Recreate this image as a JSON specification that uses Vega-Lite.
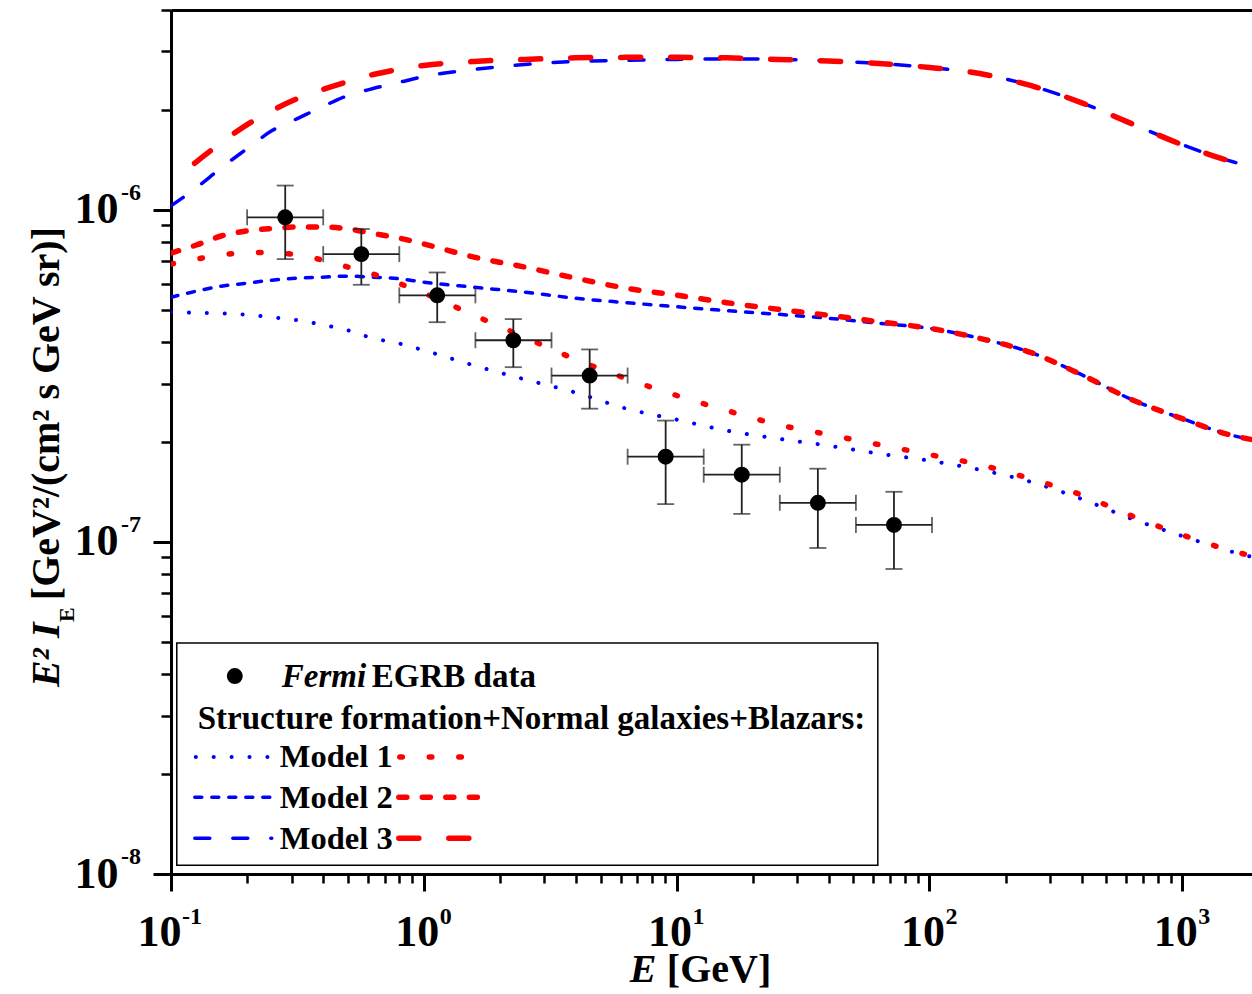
{
  "$schema": "https://vega.github.io/schema/vega-lite/v6.json",
  "width": 1081,
  "height": 864,
  "autosize": {"type": "none"},
  "padding": {"left": 171, "top": 10, "right": 0, "bottom": 120},
  "background": "white",
  "config": {
    "view": {"stroke": null},
    "axis": {"grid": false, "domainColor": "black", "tickColor": "black", "labelColor": "black", "labelFont": "Liberation Serif", "labelFontWeight": "bold", "labelFontSize": 44, "domainWidth": 3, "tickWidth": 2.5, "labelFlush": false, "labelOverlap": false},
    "text": {"font": "Liberation Serif", "fontWeight": "bold", "color": "black"}
  },
  "datasets": {
    "curves": [
      {"E": 0.1, "m1b": 4.918e-7, "m1r": 6.868e-7, "m2b": 5.459e-7, "m2r": 7.413e-7, "m3b": 1.028e-6, "m3r": 1.215e-6},
      {"E": 0.126, "m1b": 4.901e-7, "m1r": 7.112e-7, "m2b": 5.692e-7, "m2r": 7.840e-7, "m3b": 1.166e-6, "m3r": 1.396e-6},
      {"E": 0.158, "m1b": 4.884e-7, "m1r": 7.312e-7, "m2b": 5.893e-7, "m2r": 8.346e-7, "m3b": 1.339e-6, "m3r": 1.594e-6},
      {"E": 0.2, "m1b": 4.834e-7, "m1r": 7.442e-7, "m2b": 6.017e-7, "m2r": 8.642e-7, "m3b": 1.529e-6, "m3r": 1.806e-6},
      {"E": 0.251, "m1b": 4.750e-7, "m1r": 7.442e-7, "m2b": 6.144e-7, "m2r": 8.791e-7, "m3b": 1.733e-6, "m3r": 1.991e-6},
      {"E": 0.316, "m1b": 4.652e-7, "m1r": 7.312e-7, "m2b": 6.230e-7, "m2r": 8.885e-7, "m3b": 1.883e-6, "m3r": 2.164e-6},
      {"E": 0.398, "m1b": 4.509e-7, "m1r": 7.061e-7, "m2b": 6.273e-7, "m2r": 8.885e-7, "m3b": 2.047e-6, "m3r": 2.305e-6},
      {"E": 0.501, "m1b": 4.339e-7, "m1r": 6.727e-7, "m2b": 6.317e-7, "m2r": 8.763e-7, "m3b": 2.210e-6, "m3r": 2.436e-6},
      {"E": 0.631, "m1b": 4.105e-7, "m1r": 6.408e-7, "m2b": 6.273e-7, "m2r": 8.492e-7, "m3b": 2.321e-6, "m3r": 2.557e-6},
      {"E": 0.794, "m1b": 3.964e-7, "m1r": 6.017e-7, "m2b": 6.209e-7, "m2r": 8.232e-7, "m3b": 2.419e-6, "m3r": 2.649e-6},
      {"E": 1, "m1b": 3.776e-7, "m1r": 5.614e-7, "m2b": 6.059e-7, "m2r": 7.895e-7, "m3b": 2.522e-6, "m3r": 2.723e-6},
      {"E": 1.58, "m1b": 3.401e-7, "m1r": 4.817e-7, "m2b": 5.85e-7, "m2r": 7.211e-7, "m3b": 2.649e-6, "m3r": 2.800e-6},
      {"E": 2.51, "m1b": 3.087e-7, "m1r": 4.133e-7, "m2b": 5.652e-7, "m2r": 6.727e-7, "m3b": 2.742e-6, "m3r": 2.840e-6},
      {"E": 3.98, "m1b": 2.819e-7, "m1r": 3.548e-7, "m2b": 5.42e-7, "m2r": 6.230e-7, "m3b": 2.800e-6, "m3r": 2.870e-6},
      {"E": 6.31, "m1b": 2.522e-7, "m1r": 3.108e-7, "m2b": 5.256e-7, "m2r": 5.812e-7, "m3b": 2.820e-6, "m3r": 2.880e-6},
      {"E": 10, "m1b": 2.336e-7, "m1r": 2.761e-7, "m2b": 5.11e-7, "m2r": 5.535e-7, "m3b": 2.840e-6, "m3r": 2.880e-6},
      {"E": 15.8, "m1b": 2.164e-7, "m1r": 2.487e-7, "m2b": 4.970e-7, "m2r": 5.256e-7, "m3b": 2.850e-6, "m3r": 2.870e-6},
      {"E": 25.1, "m1b": 2.047e-7, "m1r": 2.257e-7, "m2b": 4.851e-7, "m2r": 5.022e-7, "m3b": 2.840e-6, "m3r": 2.840e-6},
      {"E": 39.8, "m1b": 1.950e-7, "m1r": 2.105e-7, "m2b": 4.718e-7, "m2r": 4.817e-7, "m3b": 2.810e-6, "m3r": 2.810e-6},
      {"E": 63.1, "m1b": 1.845e-7, "m1r": 1.964e-7, "m2b": 4.557e-7, "m2r": 4.603e-7, "m3b": 2.761e-6, "m3r": 2.761e-6},
      {"E": 100, "m1b": 1.757e-7, "m1r": 1.832e-7, "m2b": 4.400e-7, "m2r": 4.400e-7, "m3b": 2.685e-6, "m3r": 2.685e-6},
      {"E": 158, "m1b": 1.650e-7, "m1r": 1.709e-7, "m2b": 4.105e-7, "m2r": 4.105e-7, "m3b": 2.575e-6, "m3r": 2.575e-6},
      {"E": 251, "m1b": 1.518e-7, "m1r": 1.550e-7, "m2b": 3.724e-7, "m2r": 3.724e-7, "m3b": 2.370e-6, "m3r": 2.370e-6},
      {"E": 398, "m1b": 1.349e-7, "m1r": 1.387e-7, "m2b": 3.195e-7, "m2r": 3.195e-7, "m3b": 2.105e-6, "m3r": 2.105e-6},
      {"E": 631, "m1b": 1.174e-7, "m1r": 1.198e-7, "m2b": 2.685e-7, "m2r": 2.685e-7, "m3b": 1.819e-6, "m3r": 1.819e-6},
      {"E": 1000, "m1b": 1.042e-7, "m1r": 1.050e-7, "m2b": 2.352e-7, "m2r": 2.352e-7, "m3b": 1.572e-6, "m3r": 1.572e-6},
      {"E": 1585, "m1b": 9.33e-8, "m1r": 9.39e-8, "m2b": 2.091e-7, "m2r": 2.091e-7, "m3b": 1.396e-6, "m3r": 1.396e-6},
      {"E": 1888, "m1b": 9.01e-8, "m1r": 9.07e-8, "m2b": 2.033e-7, "m2r": 2.033e-7, "m3b": 1.349e-6, "m3r": 1.349e-6}
    ],
    "fermi": [
      {"E": 0.283, "Elo": 0.2, "Ehi": 0.4, "v": 9.50e-7, "vlo": 7.11e-7, "vhi": 1.184e-6},
      {"E": 0.566, "Elo": 0.4, "Ehi": 0.8, "v": 7.36e-7, "vlo": 5.95e-7, "vhi": 8.76e-7},
      {"E": 1.13, "Elo": 0.8, "Ehi": 1.6, "v": 5.53e-7, "vlo": 4.59e-7, "vhi": 6.48e-7},
      {"E": 2.26, "Elo": 1.6, "Ehi": 3.2, "v": 4.05e-7, "vlo": 3.36e-7, "vhi": 4.69e-7},
      {"E": 4.53, "Elo": 3.2, "Ehi": 6.4, "v": 3.17e-7, "vlo": 2.52e-7, "vhi": 3.80e-7},
      {"E": 9.05, "Elo": 6.4, "Ehi": 12.8, "v": 1.806e-7, "vlo": 1.30e-7, "vhi": 2.32e-7},
      {"E": 18.1, "Elo": 12.8, "Ehi": 25.6, "v": 1.594e-7, "vlo": 1.215e-7, "vhi": 1.963e-7},
      {"E": 36.2, "Elo": 25.6, "Ehi": 51.2, "v": 1.312e-7, "vlo": 9.59e-8, "vhi": 1.662e-7},
      {"E": 72.4, "Elo": 51.2, "Ehi": 102.4, "v": 1.125e-7, "vlo": 8.29e-8, "vhi": 1.416e-7}
    ],
    "yexp": [
      {"v": 1e-8, "t": "-8"},
      {"v": 1e-7, "t": "-7"},
      {"v": 1e-6, "t": "-6"}
    ],
    "xexpneg": [
      {"E": 0.1, "t": "-1"}
    ],
    "xexppos": [
      {"E": 1, "t": "0"},
      {"E": 10, "t": "1"},
      {"E": 100, "t": "2"},
      {"E": 1000, "t": "3"}
    ]
  },
  "layer": [
    {
      "data": {"name": "curves"},
      "mark": {"type": "line", "color": "#0000ff", "strokeWidth": 4, "strokeDash": [0.1, 17.8], "strokeCap": "round", "interpolate": "monotone", "clip": true},
      "encoding": {
        "x": {"field": "E", "type": "quantitative", "scale": {"type": "log", "domain": [0.1, 1888], "nice": false},
          "axis": {"orient": "bottom", "values": [0.1, 1, 10, 100, 1000], "tickSize": 17, "tickWidth": 3, "labelPadding": 19, "title": null,
            "labelExpr": "'10'", "labelAlign": "right",
            "labelOffset": {"condition": {"test": "datum.value < 0.5", "value": 10}, "value": 15}}},
        "y": {"field": "m1b", "type": "quantitative", "scale": {"type": "log", "domain": [1e-8, 4e-6], "nice": false},
          "axis": {"orient": "left", "values": [1e-8, 1e-7, 1e-6], "tickSize": 18, "tickWidth": 3, "labelPadding": 35, "title": null,
            "labelExpr": "'10'"}}
      }
    },
    {
      "data": {"name": "curves"},
      "mark": {"type": "line", "color": "#0000ff", "strokeWidth": 3.5, "strokeDash": [7, 10], "strokeCap": "round", "interpolate": "monotone", "clip": true},
      "encoding": {
        "x": {"field": "E", "type": "quantitative", "scale": {"type": "log", "domain": [0.1, 1888], "nice": false},
          "axis": {"orient": "bottom", "values": [0.2, 0.3, 0.4, 0.5, 0.6, 0.7, 0.8, 0.9, 2, 3, 4, 5, 6, 7, 8, 9, 20, 30, 40, 50, 60, 70, 80, 90, 200, 300, 400, 500, 600, 700, 800, 900], "tickSize": 9, "tickWidth": 2.5, "labels": false, "domain": false, "title": null}},
        "y": {"field": "m2b", "type": "quantitative", "scale": {"type": "log", "domain": [1e-8, 4e-6], "nice": false},
          "axis": {"orient": "left", "values": [2e-8, 3e-8, 4e-8, 5e-8, 6e-8, 7e-8, 8e-8, 9e-8, 2e-7, 3e-7, 4e-7, 5e-7, 6e-7, 7e-7, 8e-7, 9e-7, 2e-6, 3e-6, 4e-6], "tickSize": 10, "tickWidth": 2.5, "labels": false, "domain": false, "title": null}}
      }
    },
    {
      "data": {"name": "curves"},
      "mark": {"type": "line", "color": "#0000ff", "strokeWidth": 3.5, "strokeDash": [15, 23], "strokeCap": "round", "interpolate": "monotone", "clip": true},
      "encoding": {
        "x": {"field": "E", "type": "quantitative", "scale": {"type": "log", "domain": [0.1, 1888], "nice": false},
          "axis": {"orient": "top", "ticks": false, "labels": false, "domain": true, "domainWidth": 3, "title": null}},
        "y": {"field": "m3b", "type": "quantitative", "scale": {"type": "log", "domain": [1e-8, 4e-6], "nice": false}, "axis": null}
      }
    },
    {
      "data": {"name": "curves"},
      "mark": {"type": "line", "color": "#ff0000", "strokeWidth": 5.5, "strokeDash": [2.5, 27], "strokeCap": "round", "interpolate": "monotone", "clip": true},
      "encoding": {
        "x": {"field": "E", "type": "quantitative", "scale": {"type": "log", "domain": [0.1, 1888], "nice": false}, "axis": null},
        "y": {"field": "m1r", "type": "quantitative", "scale": {"type": "log", "domain": [1e-8, 4e-6], "nice": false}, "axis": null}
      }
    },
    {
      "data": {"name": "curves"},
      "mark": {"type": "line", "color": "#ff0000", "strokeWidth": 5.5, "strokeDash": [8, 15.5], "strokeCap": "round", "interpolate": "monotone", "clip": true},
      "encoding": {
        "x": {"field": "E", "type": "quantitative", "scale": {"type": "log", "domain": [0.1, 1888], "nice": false}, "axis": null},
        "y": {"field": "m2r", "type": "quantitative", "scale": {"type": "log", "domain": [1e-8, 4e-6], "nice": false}, "axis": null}
      }
    },
    {
      "data": {"name": "curves"},
      "mark": {"type": "line", "color": "#ff0000", "strokeWidth": 5.5, "strokeDash": [20, 30], "strokeDashOffset": 20, "strokeCap": "round", "interpolate": "monotone", "clip": true},
      "encoding": {
        "x": {"field": "E", "type": "quantitative", "scale": {"type": "log", "domain": [0.1, 1888], "nice": false}, "axis": null},
        "y": {"field": "m3r", "type": "quantitative", "scale": {"type": "log", "domain": [1e-8, 4e-6], "nice": false}, "axis": null}
      }
    },
    {
      "data": {"name": "fermi"},
      "mark": {"type": "rule", "color": "#222222", "strokeWidth": 1.8},
      "encoding": {
        "x": {"field": "Elo", "type": "quantitative", "scale": {"type": "log", "domain": [0.1, 1888], "nice": false}, "axis": null},
        "x2": {"field": "Ehi"},
        "y": {"field": "v", "type": "quantitative", "scale": {"type": "log", "domain": [1e-8, 4e-6], "nice": false}, "axis": null}
      }
    },
    {
      "data": {"name": "fermi"},
      "mark": {"type": "rule", "color": "#222222", "strokeWidth": 1.8},
      "encoding": {
        "x": {"field": "E", "type": "quantitative", "scale": {"type": "log", "domain": [0.1, 1888], "nice": false}, "axis": null},
        "y": {"field": "vlo", "type": "quantitative", "scale": {"type": "log", "domain": [1e-8, 4e-6], "nice": false}, "axis": null},
        "y2": {"field": "vhi"}
      }
    },
    {
      "data": {"name": "fermi"},
      "transform": [{"fold": ["Elo", "Ehi"], "as": ["k", "Ecap"]}],
      "mark": {"type": "tick", "orient": "vertical", "size": 16, "thickness": 1.8, "color": "#222222"},
      "encoding": {
        "x": {"field": "Ecap", "type": "quantitative", "scale": {"type": "log", "domain": [0.1, 1888], "nice": false}, "axis": null},
        "y": {"field": "v", "type": "quantitative", "scale": {"type": "log", "domain": [1e-8, 4e-6], "nice": false}, "axis": null}
      }
    },
    {
      "data": {"name": "fermi"},
      "transform": [{"fold": ["vlo", "vhi"], "as": ["k", "vcap"]}],
      "mark": {"type": "tick", "orient": "horizontal", "size": 17, "thickness": 1.8, "color": "#222222"},
      "encoding": {
        "x": {"field": "E", "type": "quantitative", "scale": {"type": "log", "domain": [0.1, 1888], "nice": false}, "axis": null},
        "y": {"field": "vcap", "type": "quantitative", "scale": {"type": "log", "domain": [1e-8, 4e-6], "nice": false}, "axis": null}
      }
    },
    {
      "data": {"name": "fermi"},
      "mark": {"type": "point", "shape": "circle", "filled": true, "size": 254, "color": "black", "opacity": 1},
      "encoding": {
        "x": {"field": "E", "type": "quantitative", "scale": {"type": "log", "domain": [0.1, 1888], "nice": false}, "axis": null},
        "y": {"field": "v", "type": "quantitative", "scale": {"type": "log", "domain": [1e-8, 4e-6], "nice": false}, "axis": null}
      }
    },
    {
      "data": {"name": "yexp"},
      "mark": {"type": "text", "fontSize": 24, "align": "left", "baseline": "alphabetic", "dx": -50, "dy": -10},
      "encoding": {
        "x": {"datum": 0.1, "type": "quantitative", "axis": null},
        "y": {"field": "v", "type": "quantitative", "axis": null},
        "text": {"field": "t"}
      }
    },
    {
      "data": {"name": "xexpneg"},
      "mark": {"type": "text", "fontSize": 24, "align": "left", "baseline": "alphabetic", "dx": 11, "dy": 50},
      "encoding": {
        "x": {"field": "E", "type": "quantitative", "axis": null},
        "y": {"datum": 1e-8, "type": "quantitative", "axis": null},
        "text": {"field": "t"}
      }
    },
    {
      "data": {"name": "xexppos"},
      "mark": {"type": "text", "fontSize": 24, "align": "left", "baseline": "alphabetic", "dx": 16, "dy": 50},
      "encoding": {
        "x": {"field": "E", "type": "quantitative", "axis": null},
        "y": {"datum": 1e-8, "type": "quantitative", "axis": null},
        "text": {"field": "t"}
      }
    },
    {
      "data": {"values": [{}]},
      "mark": {"type": "rect", "fill": "white", "stroke": "black", "strokeWidth": 1.5},
      "encoding": {
        "x": {"datum": 0.1054, "type": "quantitative", "axis": null},
        "x2": {"datum": 62.5},
        "y": {"datum": 4.96e-8, "type": "quantitative", "axis": null},
        "y2": {"datum": 1.063e-8}
      }
    },
    {
      "data": {"values": [{}]},
      "mark": {"type": "point", "shape": "circle", "filled": true, "size": 254, "color": "black", "opacity": 1},
      "encoding": {
        "x": {"datum": 0.1788, "type": "quantitative", "axis": null},
        "y": {"datum": 3.945e-8, "type": "quantitative", "axis": null}
      }
    },
    {
      "data": {"values": [{}]},
      "mark": {"type": "text", "text": "Fermi", "fontStyle": "italic", "fontSize": 33, "align": "left", "baseline": "alphabetic"},
      "encoding": {"x": {"datum": 0.2744, "type": "quantitative", "axis": null}, "y": {"datum": 3.656e-8, "type": "quantitative", "axis": null}}
    },
    {
      "data": {"values": [{}]},
      "mark": {"type": "text", "text": "EGRB data", "fontSize": 33, "align": "left", "baseline": "alphabetic"},
      "encoding": {"x": {"datum": 0.6226, "type": "quantitative", "axis": null}, "y": {"datum": 3.656e-8, "type": "quantitative", "axis": null}}
    },
    {
      "data": {"values": [{}]},
      "mark": {"type": "text", "text": "Structure formation+Normal galaxies+Blazars:", "fontSize": 33, "align": "left", "baseline": "alphabetic"},
      "encoding": {"x": {"datum": 0.1276, "type": "quantitative", "axis": null}, "y": {"datum": 2.732e-8, "type": "quantitative", "axis": null}}
    },
    {
      "data": {"values": [{}]},
      "mark": {"type": "text", "text": "Model 1", "fontSize": 32.5, "align": "left", "baseline": "alphabetic"},
      "encoding": {"x": {"datum": 0.2694, "type": "quantitative", "axis": null}, "y": {"datum": 2.099e-8, "type": "quantitative", "axis": null}}
    },
    {
      "data": {"values": [{}]},
      "mark": {"type": "text", "text": "Model 2", "fontSize": 32.5, "align": "left", "baseline": "alphabetic"},
      "encoding": {"x": {"datum": 0.2694, "type": "quantitative", "axis": null}, "y": {"datum": 1.579e-8, "type": "quantitative", "axis": null}}
    },
    {
      "data": {"values": [{}]},
      "mark": {"type": "text", "text": "Model 3", "fontSize": 32.5, "align": "left", "baseline": "alphabetic"},
      "encoding": {"x": {"datum": 0.2694, "type": "quantitative", "axis": null}, "y": {"datum": 1.189e-8, "type": "quantitative", "axis": null}}
    },
    {
      "data": {"values": [{}]},
      "mark": {"type": "rule", "color": "#0000ff", "strokeWidth": 4, "strokeDash": [0.1, 17.8], "strokeCap": "round"},
      "encoding": {"x": {"datum": 0.1253, "type": "quantitative", "axis": null}, "x2": {"datum": 0.2504}, "y": {"datum": 2.25e-8, "type": "quantitative", "axis": null}}
    },
    {
      "data": {"values": [{}]},
      "mark": {"type": "rule", "color": "#ff0000", "strokeWidth": 5.5, "strokeDash": [2.5, 27], "strokeCap": "round"},
      "encoding": {"x": {"datum": 0.8038, "type": "quantitative", "axis": null}, "x2": {"datum": 1.534}, "y": {"datum": 2.25e-8, "type": "quantitative", "axis": null}}
    },
    {
      "data": {"values": [{}]},
      "mark": {"type": "rule", "color": "#0000ff", "strokeWidth": 3.5, "strokeDash": [7, 10], "strokeCap": "round"},
      "encoding": {"x": {"datum": 0.1242, "type": "quantitative", "axis": null}, "x2": {"datum": 0.2504}, "y": {"datum": 1.704e-8, "type": "quantitative", "axis": null}}
    },
    {
      "data": {"values": [{}]},
      "mark": {"type": "rule", "color": "#ff0000", "strokeWidth": 5.5, "strokeDash": [8, 15.5], "strokeCap": "round"},
      "encoding": {"x": {"datum": 0.7965, "type": "quantitative", "axis": null}, "x2": {"datum": 1.635}, "y": {"datum": 1.704e-8, "type": "quantitative", "axis": null}}
    },
    {
      "data": {"values": [{}]},
      "mark": {"type": "rule", "color": "#0000ff", "strokeWidth": 3.5, "strokeDash": [15, 23], "strokeCap": "round"},
      "encoding": {"x": {"datum": 0.1242, "type": "quantitative", "axis": null}, "x2": {"datum": 0.2504}, "y": {"datum": 1.282e-8, "type": "quantitative", "axis": null}}
    },
    {
      "data": {"values": [{}]},
      "mark": {"type": "rule", "color": "#ff0000", "strokeWidth": 5.5, "strokeDash": [20, 30], "strokeCap": "round"},
      "encoding": {"x": {"datum": 0.7965, "type": "quantitative", "axis": null}, "x2": {"datum": 1.606}, "y": {"datum": 1.282e-8, "type": "quantitative", "axis": null}}
    },
    {
      "data": {"values": [{}]},
      "mark": {"type": "text", "text": "E", "fontStyle": "italic", "fontSize": 40, "align": "left", "baseline": "alphabetic"},
      "encoding": {"x": {"datum": 6.53, "type": "quantitative", "axis": null}, "y": {"datum": 4.72e-9, "type": "quantitative", "axis": null}}
    },
    {
      "data": {"values": [{}]},
      "mark": {"type": "text", "text": "[GeV]", "fontSize": 40, "align": "left", "baseline": "alphabetic"},
      "encoding": {"x": {"datum": 9.146, "type": "quantitative", "axis": null}, "y": {"datum": 4.72e-9, "type": "quantitative", "axis": null}}
    },
    {
      "data": {"values": [{}]},
      "mark": {"type": "text", "text": "E²", "fontStyle": "italic", "fontSize": 40, "angle": 270, "align": "left", "baseline": "alphabetic"},
      "encoding": {"x": {"datum": 0.03598, "type": "quantitative", "axis": null}, "y": {"datum": 3.656e-8, "type": "quantitative", "axis": null}}
    },
    {
      "data": {"values": [{}]},
      "mark": {"type": "text", "text": "I", "fontStyle": "italic", "fontSize": 40, "angle": 270, "align": "left", "baseline": "alphabetic"},
      "encoding": {"x": {"datum": 0.03598, "type": "quantitative", "axis": null}, "y": {"datum": 5.134e-8, "type": "quantitative", "axis": null}}
    },
    {
      "data": {"values": [{}]},
      "mark": {"type": "text", "text": "E", "fontSize": 22, "angle": 270, "align": "left", "baseline": "alphabetic"},
      "encoding": {"x": {"datum": 0.04125, "type": "quantitative", "axis": null}, "y": {"datum": 5.736e-8, "type": "quantitative", "axis": null}}
    },
    {
      "data": {"values": [{}]},
      "mark": {"type": "text", "text": "[GeV²/(cm² s GeV sr)]", "fontSize": 40, "angle": 270, "align": "left", "baseline": "alphabetic"},
      "encoding": {"x": {"datum": 0.03598, "type": "quantitative", "axis": null}, "y": {"datum": 6.68e-8, "type": "quantitative", "axis": null}}
    }
  ],
  "resolve": {"axis": {"x": "independent", "y": "independent"}}
}
